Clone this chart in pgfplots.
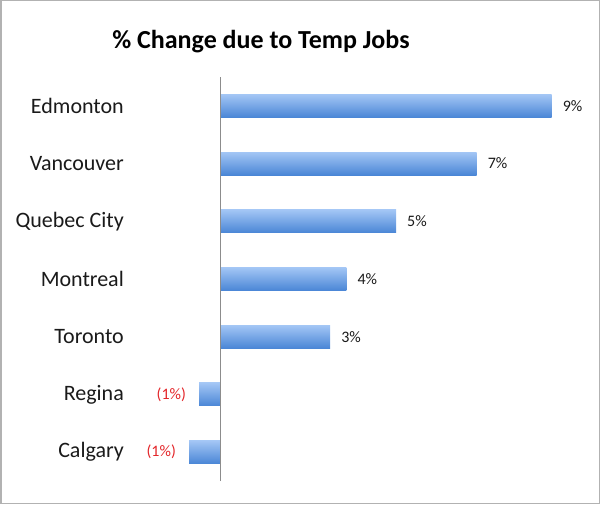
\documentclass[border=0pt]{standalone}
\usepackage{pgfplots}
\pgfplotsset{compat=1.18}
\usepackage{fontspec}
\setmainfont{Carlito}
\definecolor{barTop}{HTML}{A3C6F5}
\definecolor{barBot}{HTML}{4A86D6}
\definecolor{negRed}{HTML}{E3262A}
\definecolor{txt}{HTML}{1A1A1A}
\pgfplotsset{
 posbar/.style={xbar, bar width=23pt, bar shift=0pt, draw=none, top color=barTop, bottom color=barBot,
  nodes near coords, point meta=explicit symbolic,
  every node near coord/.append style={anchor=west, font=\fontsize{16}{19}\selectfont, text=txt, xshift=11pt, inner sep=0pt}},
 negbar/.style={xbar, bar width=23pt, bar shift=0pt, draw=none, top color=barTop, bottom color=barBot,
  nodes near coords, point meta=explicit symbolic,
  every node near coord/.append style={anchor=east, font=\fontsize{16}{19}\selectfont, text=negRed, xshift=-13pt, inner sep=0pt}},
}
\begin{document}
\begin{tikzpicture}[x=1pt,y=1pt]
\useasboundingbox (0,0) rectangle (600,504);
\draw[line width=1.5pt, color=black!30] (0.75,0.75) rectangle (599.25,503.25);
\node[font=\fontsize{26}{30}\selectfont\bfseries, text=black] at (261,462) {\% Change due to Temp Jobs};
\begin{axis}[
 at={(128pt,23pt)}, anchor=south west, scale only axis, width=462pt, height=404pt,
 xmin=-2.556, xmax=10.278, ymin=-0.5, ymax=6.5,
 axis line style={draw=none}, xtick=\empty,
 ytick={0,...,6},
 yticklabels={Calgary,Regina,Toronto,Montreal,Quebec City,Vancouver,Edmonton},
 major tick length=0pt,
 yticklabel style={font=\fontsize{22}{26}\selectfont, text=txt, anchor=east, inner sep=0pt, xshift=-4pt},
 clip=false,
]
\addplot[posbar] coordinates {(9.21,6)[9\%]};
\addplot[posbar] coordinates {(7.13,5)[7\%]};
\addplot[posbar] coordinates {(4.89,4)[5\%]};
\addplot[posbar] coordinates {(3.51,3)[4\%]};
\addplot[posbar] coordinates {(3.06,2)[3\%]};
\addplot[negbar] coordinates {(-0.58,1)[(1\%)]};
\addplot[negbar] coordinates {(-0.86,0)[(1\%)]};
\draw[black!45, line width=1pt] (axis cs:0,-0.5) -- (axis cs:0,6.5);
\end{axis}
\end{tikzpicture}
\end{document}
